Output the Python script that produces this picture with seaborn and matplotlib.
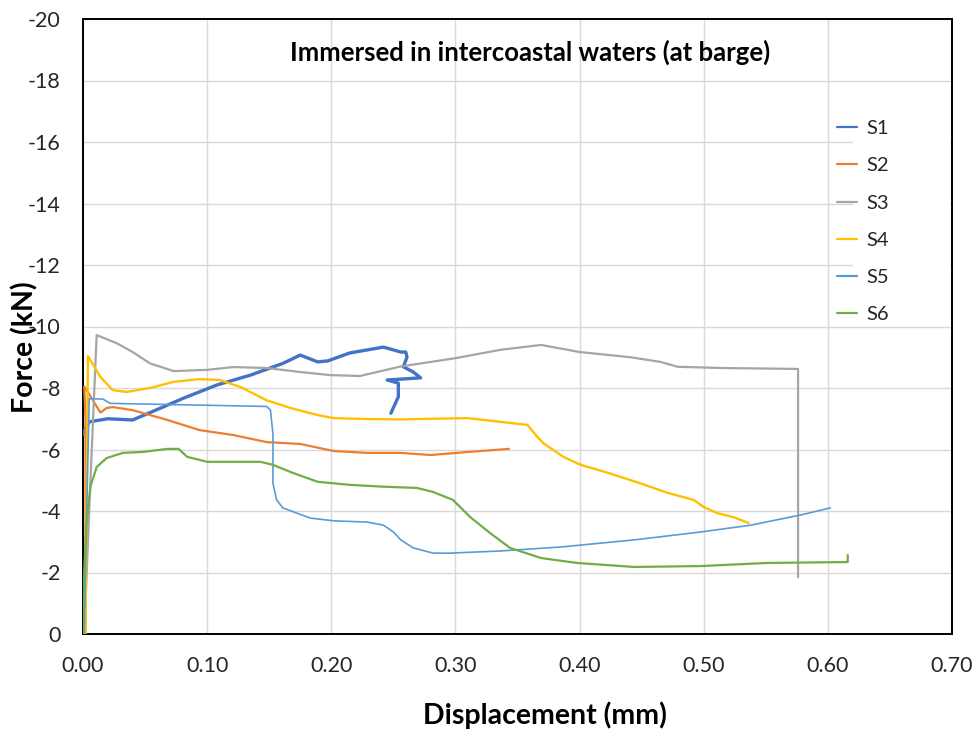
import numpy as np
import pandas as pd
import matplotlib
matplotlib.use("Agg")
import matplotlib.pyplot as plt
import seaborn as sns

# Force–displacement curves, six specimens (force in kN, negative = compression)
s1_x = [0.000, 0.001, 0.005, 0.020, 0.040, 0.054, 0.081, 0.108, 0.135, 0.161, 0.175,
        0.189, 0.197, 0.215, 0.242, 0.256, 0.260, 0.261, 0.258, 0.266, 0.272, 0.245,
        0.254, 0.254, 0.248]
s1_y = [-6.5, -6.6, -6.9, -7.0, -6.96, -7.2, -7.67, -8.1, -8.42, -8.8, -9.07,
        -8.85, -8.88, -9.14, -9.33, -9.17, -9.17, -9.0, -8.69, -8.52, -8.33, -8.26,
        -8.16, -7.71, -7.18]

s2_x = [0.002, 0.002, 0.002, 0.001, 0.008, 0.014, 0.019, 0.024, 0.040, 0.068, 0.094,
        0.121, 0.148, 0.175, 0.202, 0.229, 0.256, 0.280, 0.310, 0.343]
s2_y = [0.0, -5.0, -7.0, -8.05, -7.6, -7.2, -7.35, -7.38, -7.28, -6.96, -6.63,
        -6.47, -6.24, -6.18, -5.95, -5.89, -5.89, -5.82, -5.92, -6.02]

s3_x = [0.001, 0.006, 0.011, 0.027, 0.040, 0.054, 0.073, 0.100, 0.121, 0.148, 0.175,
        0.199, 0.223, 0.256, 0.300, 0.336, 0.369, 0.400, 0.441, 0.465, 0.479, 0.514,
        0.576, 0.576]
s3_y = [0.0, -5.0, -9.72, -9.46, -9.17, -8.8, -8.55, -8.59, -8.68, -8.65, -8.52,
        -8.42, -8.39, -8.7, -8.97, -9.24, -9.4, -9.17, -9.0, -8.85, -8.69, -8.65,
        -8.62, -1.85]

s4_x = [0.002, 0.003, 0.004, 0.014, 0.024, 0.035, 0.054, 0.073, 0.094, 0.110, 0.127,
        0.148, 0.167, 0.189, 0.202, 0.229, 0.256, 0.310, 0.336, 0.358, 0.366, 0.371,
        0.387, 0.401, 0.423, 0.449, 0.471, 0.492, 0.500, 0.511, 0.524, 0.536]
s4_y = [0.0, -5.0, -9.04, -8.36, -7.93, -7.87, -8.0, -8.2, -8.29, -8.26, -8.03,
        -7.6, -7.35, -7.12, -7.02, -6.99, -6.98, -7.02, -6.9, -6.8, -6.41, -6.2,
        -5.76, -5.5, -5.24, -4.9, -4.59, -4.36, -4.13, -3.93, -3.8, -3.61]

s5_x = [0.001, 0.003, 0.005, 0.016, 0.022, 0.148, 0.151, 0.153, 0.153, 0.156, 0.161,
        0.183, 0.202, 0.229, 0.242, 0.250, 0.256, 0.266, 0.282, 0.296, 0.336, 0.385,
        0.444, 0.498, 0.538, 0.578, 0.602]
s5_y = [0.0, -4.0, -7.65, -7.64, -7.5, -7.4, -7.28, -6.5, -4.9, -4.36, -4.1,
        -3.77, -3.68, -3.64, -3.54, -3.32, -3.06, -2.8, -2.63, -2.63, -2.7, -2.83,
        -3.06, -3.32, -3.54, -3.87, -4.1]

s6_x = [0.000, 0.001, 0.003, 0.006, 0.011, 0.019, 0.032, 0.048, 0.068, 0.077, 0.084,
        0.100, 0.121, 0.143, 0.153, 0.169, 0.189, 0.215, 0.242, 0.269, 0.282, 0.298,
        0.312, 0.328, 0.344, 0.369, 0.398, 0.444, 0.498, 0.551, 0.616, 0.616]
s6_y = [0.0, -2.08, -3.7, -4.8, -5.43, -5.72, -5.89, -5.92, -6.02, -6.02, -5.76,
        -5.6, -5.6, -5.6, -5.5, -5.24, -4.95, -4.85, -4.79, -4.75, -4.62, -4.36,
        -3.8, -3.28, -2.8, -2.47, -2.31, -2.18, -2.21, -2.31, -2.34, -2.57]

labels = ["S1", "S2", "S3", "S4", "S5", "S6"]
xs = [s1_x, s2_x, s3_x, s4_x, s5_x, s6_x]
ys = [s1_y, s2_y, s3_y, s4_y, s5_y, s6_y]
colors = ["#4472C4", "#ED7D31", "#A5A5A5", "#FFC000", "#5B9BD5", "#70AD47"]
widths = [2.4, 1.6, 1.6, 1.7, 1.2, 1.6]

x_ticks = [0.0, 0.1, 0.2, 0.3, 0.4, 0.5, 0.6, 0.7]
y_ticks = [0, -2, -4, -6, -8, -10, -12, -14, -16, -18, -20]

sns.set_theme(style="white")
plt.rcParams["font.family"] = ["Lato", "DejaVu Sans"]
plt.rcParams["axes.unicode_minus"] = False

fig = plt.figure(figsize=(9.76, 7.34), dpi=100)
ax = fig.add_axes([83 / 976, 1 - 634 / 734, (952 - 83) / 976, (634 - 19) / 734])

for lab, x, y, c, w in zip(labels, xs, ys, colors, widths):
    df = pd.DataFrame({"Displacement": x, "Force": y})
    sns.lineplot(data=df, x="Displacement", y="Force", sort=False, estimator=None,
                 color=c, lw=w, ax=ax, label=lab, zorder=3)

ax.set_xlim(0, 0.70)
ax.set_ylim(0, -20)
ax.set_xticks(x_ticks)
ax.set_xticklabels([f"{v:.2f}" for v in x_ticks])
ax.set_yticks(y_ticks)
ax.set_yticklabels([f"{v:d}" for v in y_ticks])
ax.tick_params(axis="both", length=0, labelsize=15.5, colors="#262626")
ax.tick_params(axis="y", pad=16)
ax.tick_params(axis="x", pad=16)

ax.grid(True, color="#D9D9D9", lw=1.0, zorder=0)
ax.set_axisbelow(True)
for sp in ax.spines.values():
    sp.set_color("black")
    sp.set_linewidth(1.4)

ax.set_xlabel("Displacement (mm)", fontsize=20.5, fontweight="bold", color="black")
ax.set_ylabel("Force (kN)", fontsize=20.5, fontweight="bold", color="black")
ax.xaxis.set_label_coords((545 - 83) / 869, (634 - 701) / 615)
ax.yaxis.set_label_coords((38 - 83) / 869, (634 - 347) / 615)

ax.text((530 - 83) / 869, (634 - 52) / 615, "Immersed in intercoastal waters (at barge)",
        transform=ax.transAxes, ha="center", va="center", fontsize=18.5,
        fontweight="bold", color="black", zorder=5)

# white panel behind the legend text
ax.add_patch(plt.Rectangle(((853 - 83) / 869, (634 - 322) / 615), (950 - 853) / 869,
                           (322 - 110) / 615, transform=ax.transAxes,
                           facecolor="white", edgecolor="none", zorder=1))

leg = ax.legend(loc="upper left", bbox_to_anchor=((829 - 83) / 869, (634 - 112) / 615),
                frameon=False, fontsize=14.5, handlelength=1.0, handletextpad=0.45,
                labelspacing=1.0, borderaxespad=0)
for h in leg.get_lines():
    h.set_linewidth(1.6)

fig.savefig("out.png", dpi=100, facecolor="white")
